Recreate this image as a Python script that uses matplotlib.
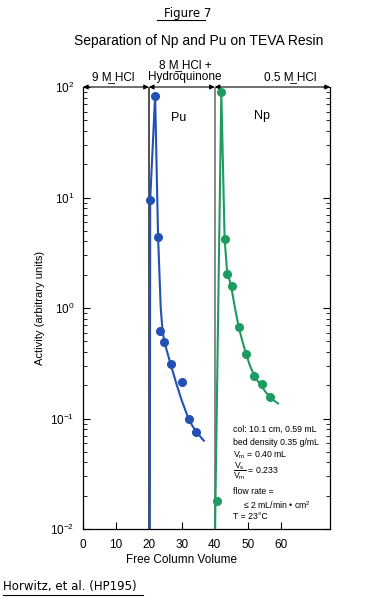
import numpy as np
import matplotlib
matplotlib.use('Agg')
import matplotlib.pyplot as plt
from matplotlib.lines import Line2D

plt.rcParams['font.family'] = ['Liberation Sans', 'DejaVu Sans']
plt.rcParams['mathtext.fontset'] = 'custom'
plt.rcParams['mathtext.rm'] = 'Liberation Sans'
plt.rcParams['mathtext.it'] = 'Liberation Sans:italic'

# Pu measured points and fitted line
pu_x = [20.4, 21.9, 22.8, 23.5, 24.5, 26.6, 30.1, 32.2, 34.3]
pu_y = [9.5, 83, 4.4, 0.62, 0.49, 0.31, 0.215, 0.10, 0.076]
pu_line_x = [20.3, 20.4, 21.9, 22.8, 23.6, 24.2, 25.0, 26.0, 27.2, 28.5, 30.0,
             31.6, 33.0, 34.5, 36.7]
pu_line_y = [0.01, 9.5, 83, 4.4, 1.0, 0.6, 0.46, 0.36, 0.27, 0.20, 0.145,
             0.108, 0.088, 0.075, 0.063]

# Np measured points and fitted line
np_x = [40.8, 42.0, 43.0, 43.8, 45.1, 47.3, 49.5, 52.0, 54.5, 56.9]
np_y = [0.018, 90, 4.2, 2.05, 1.58, 0.67, 0.38, 0.245, 0.205, 0.155]
np_line_x = [40.1, 42.0, 43.0, 43.8, 44.5, 45.1, 46.2, 47.3, 48.4, 49.5, 50.7,
             52.0, 53.2, 54.5, 55.7, 56.9, 58.0, 59.2]
np_line_y = [0.01, 90, 4.2, 2.05, 1.78, 1.5, 0.98, 0.67, 0.50, 0.385, 0.30,
             0.245, 0.215, 0.19, 0.17, 0.155, 0.145, 0.137]

# eluent changes
stages = [0, 20, 40, 75]
stage_labels = ['9 M\u0332 HCl', '8 M\u0332 HCl +\nHydroquinone', '0.5 M\u0332 HCl']
stage_label_x = [9.2, 31, 63]

blue = '#2350b4'
green = '#1e9b5e'

fig = plt.figure(figsize=(3.76, 6.0), dpi=100)
ax = fig.add_axes([0.2207, 0.1183, 0.657, 0.7367])

ax.axvline(20, color='#333333', lw=1.2, zorder=1)
ax.axvline(40, color='#888888', lw=1.4, zorder=1)

ax.plot(pu_line_x, pu_line_y, color=blue, lw=1.5, zorder=3)
ax.plot(pu_x, pu_y, 'o', color=blue, ms=5.5, zorder=4)
ax.plot(np_line_x, np_line_y, color=green, lw=1.5, zorder=3)
ax.plot(np_x, np_y, 'o', color=green, ms=5.5, zorder=4)

ax.set_yscale('log')
ax.set_xlim(0, 75)
ax.set_ylim(1e-2, 1e2)
ax.set_xticks([0, 10, 20, 30, 40, 50, 60])
ax.set_yticks([1e-2, 1e-1, 1e0, 1e1, 1e2])
ax.set_yticklabels([r'$10^{-2}$', r'$10^{-1}$', r'$10^{0}$', r'$10^{1}$', r'$10^{2}$'])
ax.tick_params(axis='x', direction='in', length=5, width=0.8, labelsize=8.5, pad=7)
ax.tick_params(axis='y', which='major', direction='in', length=5, width=0.8,
               labelsize=8.5, right=True, pad=6)
ax.tick_params(axis='y', which='minor', direction='in', length=3, width=0.6, right=True)
for s in ax.spines.values():
    s.set_linewidth(0.9)
ax.spines['top'].set_visible(False)

ax.set_ylabel('Activity (arbitrary units)', fontsize=8, labelpad=4)
ax.text(30, 10 ** -2.28, 'Free Column Volume', fontsize=8.5, ha='center', va='center')

# top arrows with eluent labels
for i in range(3):
    ax.annotate('', xy=(stages[i], 100), xytext=(stages[i + 1], 100),
                arrowprops=dict(arrowstyle='<|-|>', color='black', lw=0.8,
                                mutation_scale=7, shrinkA=0, shrinkB=0),
                annotation_clip=False)
    ax.text(stage_label_x[i], 10 ** 2.04, stage_labels[i], fontsize=8.5,
            ha='center', va='bottom', linespacing=1.0)

ax.text(29, 10 ** 1.72, 'Pu', fontsize=9, ha='center', va='center')
ax.text(54.5, 10 ** 1.74, 'Np', fontsize=9, ha='center', va='center')

info = dict(fontsize=6.3, ha='left', va='center')
ax.text(45.5, 10 ** -1.1, 'col: 10.1 cm, 0.59 mL', **info)
ax.text(45.5, 10 ** -1.22, 'bed density 0.35 g/mL', **info)
ax.text(45.5, 10 ** -1.33, r'V$_\mathrm{m}$ = 0.40 mL', **info)
ax.text(45.5, 10 ** -1.48, r'$\dfrac{\mathrm{V_s}}{\mathrm{V_m}}$ = 0.233', **info)
ax.text(45.5, 10 ** -1.66, 'flow rate =', **info)
ax.text(48.5, 10 ** -1.78, r'≤ 2 mL/min • cm$^2$', **info)
ax.text(45.5, 10 ** -1.89, 'T = 23°C', **info)

ax.set_title('Separation of Np and Pu on TEVA Resin', fontsize=10, pad=30, x=0.47)

fig.text(0.5, 0.977, 'Figure 7', fontsize=8.5, ha='center', va='center',
         family=['DejaVu Sans'])
fig.add_artist(Line2D([0.418, 0.545], [0.966, 0.966], color='black', lw=0.8))
fig.text(0.008, 0.022, 'Horwitz, et al. (HP195)', fontsize=8.5, ha='left', va='center',
         family=['DejaVu Sans'])
fig.add_artist(Line2D([0.008, 0.38], [0.009, 0.009], color='black', lw=0.8))

fig.savefig('out.png', dpi=100)
